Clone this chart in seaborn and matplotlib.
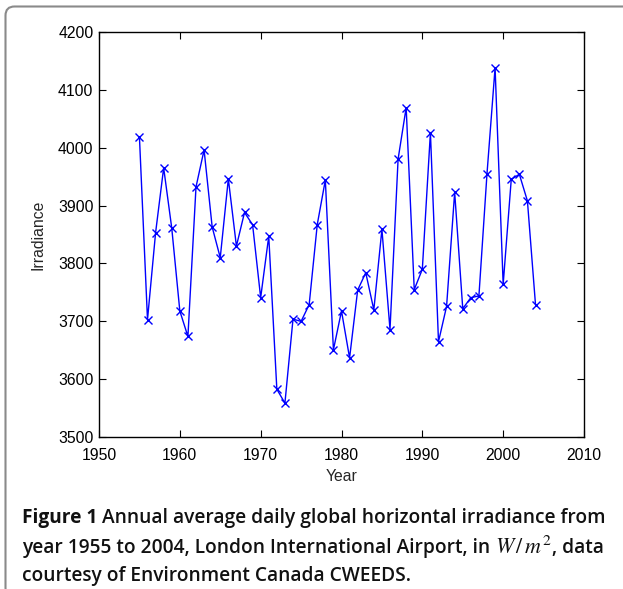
import numpy as np
import pandas as pd
import matplotlib
matplotlib.use("Agg")
import matplotlib.pyplot as plt
import seaborn as sns
from matplotlib.patches import FancyBboxPatch

years = list(range(1955, 2005))
irradiance = [4019, 3703, 3853, 3965, 3861, 3718, 3674, 3932, 3996, 3863,
              3810, 3946, 3830, 3888, 3867, 3741, 3847, 3583, 3559, 3704,
              3700, 3729, 3867, 3944, 3651, 3718, 3637, 3754, 3784, 3720,
              3859, 3686, 3980, 4069, 3755, 3790, 4026, 3665, 3726, 3923,
              3722, 3741, 3744, 3955, 4138, 3764, 3945, 3954, 3908, 3729]
xticks = [1950, 1960, 1970, 1980, 1990, 2000, 2010]
yticks = [3500, 3600, 3700, 3800, 3900, 4000, 4100, 4200]

sns.set_style("ticks")
plt.rcParams["font.family"] = ["Liberation Sans", "DejaVu Sans"]
plt.rcParams["mathtext.fontset"] = "stix"

W, H = 623, 589
fig = plt.figure(figsize=(W / 100, H / 100), dpi=100)
ax = fig.add_axes([99 / W, 1 - 437.3 / H, (584 - 99) / W, (437.3 - 31.7) / H])

df = pd.DataFrame({"Year": years, "Irradiance": irradiance})
sns.lineplot(data=df, x="Year", y="Irradiance", ax=ax, color="#0000FF",
             linewidth=1.0, marker="x", markersize=6.2, markeredgewidth=1.0,
             markeredgecolor="#0000FF")

ax.set_xlim(1950, 2010)
ax.set_ylim(3500, 4200)
ax.set_xticks(xticks)
ax.set_yticks(yticks)
ax.tick_params(direction="in", length=5, width=0.8, top=True, right=True,
               labelsize=11.3, color="black", labelcolor="black")
ax.tick_params(axis="x", pad=8)
ax.tick_params(axis="y", pad=4)
for s in ax.spines.values():
    s.set_linewidth(1.0)
    s.set_color("black")
ax.set_xlabel("Year", fontsize=11.3, labelpad=4)
ax.set_ylabel("Irradiance", fontsize=11.3, labelpad=9)

# border box (top and left edges with rounded corners)
box = FancyBboxPatch((5.5, -8), 700, H - 6.5 + 8,
                     boxstyle="round,pad=0,rounding_size=9",
                     transform=None, facecolor="none", edgecolor="#8a8a8a",
                     linewidth=1.5, zorder=10)
fig.patches.append(box)

# caption
renderer = fig.canvas.get_renderer()
cap_fs = 13.8
reg = dict(family=["Open Sans", "DejaVu Sans"], fontweight="semibold",
           fontsize=cap_fs, color="#111111")
bold = dict(family=["Open Sans", "DejaVu Sans"], fontweight="bold",
            fontsize=cap_fs, color="#111111")
math = dict(fontsize=cap_fs * 1.15, color="#111111")

lines = [
    (516, [("Figure 1", bold), (" Annual average daily global horizontal irradiance from", reg)]),
    (545, [("year 1955 to 2004, London International Airport, in ", reg),
           (r"$W\,/\,m^2$", math), (", data", reg)]),
    (573, [("courtesy of Environment Canada CWEEDS.", reg)]),
]
for py, pieces in lines:
    x = 22
    for txt, kw in pieces:
        t = fig.text(x / W, 1 - py / H, txt, va="center_baseline", ha="left", **kw)
        x += t.get_window_extent(renderer).width

fig.savefig("out.png", dpi=100)
